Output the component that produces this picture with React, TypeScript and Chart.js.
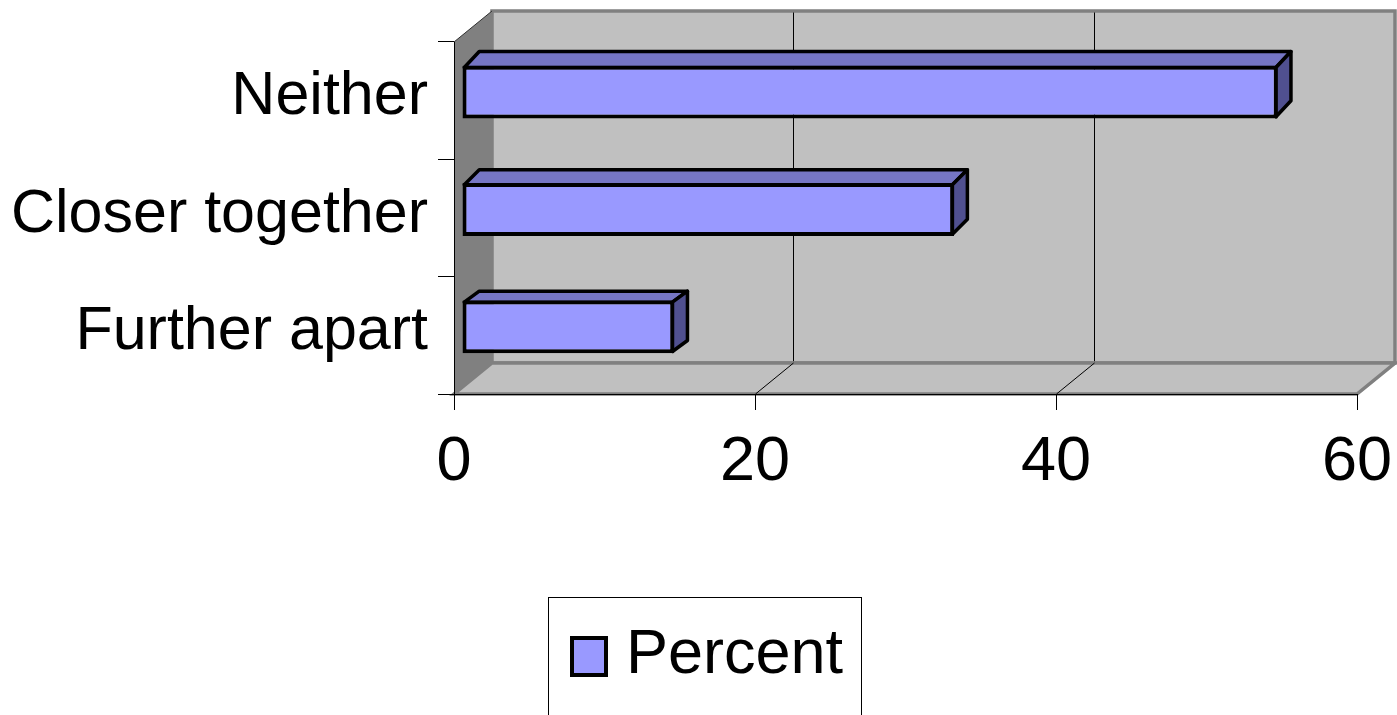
import React, { useEffect, useRef } from 'react';
import { Chart, registerables } from 'chart.js';

Chart.register(...registerables);

// ---- data ----
const categories = ['Neither', 'Closer together', 'Further apart'];
const percentValues = [54.2, 32.7, 14.1];
const seriesLabel = 'Percent';
const xTickValues = [0, 20, 40, 60];

// ---- style ----
const FONT = "'Liberation Sans', Arial, Helvetica, sans-serif";
const BAR_FRONT = '#9999ff';
const BAR_TOP = '#7676c4';
const BAR_SIDE = '#505090';
const WALL_BACK = '#c0c0c0';
const WALL_LEFT = '#808080';
const WALL_EDGE = '#808080';
const DEPTH = { dx: 38, dy: -31 };
const BAR_SHIFT = { dx: 8, dy: -8.5 };
const BAR_DEPTH_DX = 15;
const BAR_DEPTH_DY = [-16, -15, -11];

const threeDPlugin = {
  id: 'threeD',
  beforeDraw(chart: any) {
    const { ctx, chartArea: a, scales } = chart;
    const xs = scales.x;
    const { dx, dy } = DEPTH;
    ctx.save();
    // back wall
    ctx.fillStyle = WALL_BACK;
    ctx.strokeStyle = WALL_EDGE;
    ctx.lineWidth = 3.5;
    ctx.beginPath();
    ctx.rect(a.left + dx, a.top + dy, a.right - a.left, a.bottom - a.top);
    ctx.fill();
    ctx.stroke();
    // back wall gridlines
    ctx.strokeStyle = '#000';
    ctx.lineWidth = 1;
    xTickValues.slice(1, -1).forEach((v) => {
      const px = Math.round(xs.getPixelForValue(v)) + 0.5 + dx;
      ctx.beginPath();
      ctx.moveTo(px, a.top + dy + 1.5);
      ctx.lineTo(px, a.bottom + dy - 1.5);
      ctx.stroke();
    });
    // floor
    ctx.fillStyle = WALL_BACK;
    ctx.strokeStyle = WALL_EDGE;
    ctx.lineWidth = 3.5;
    ctx.beginPath();
    ctx.moveTo(a.left, a.bottom);
    ctx.lineTo(a.right, a.bottom);
    ctx.lineTo(a.right + dx, a.bottom + dy);
    ctx.lineTo(a.left + dx, a.bottom + dy);
    ctx.closePath();
    ctx.fill();
    ctx.stroke();
    // floor gridlines
    ctx.strokeStyle = '#000';
    ctx.lineWidth = 1;
    xTickValues.slice(1, -1).forEach((v) => {
      const px = Math.round(xs.getPixelForValue(v)) + 0.5;
      ctx.beginPath();
      ctx.moveTo(px, a.bottom);
      ctx.lineTo(px + dx, a.bottom + dy);
      ctx.stroke();
    });
    // left wall
    ctx.fillStyle = WALL_LEFT;
    ctx.beginPath();
    ctx.moveTo(a.left, a.top);
    ctx.lineTo(a.left + dx, a.top + dy);
    ctx.lineTo(a.left + dx, a.bottom + dy);
    ctx.lineTo(a.left, a.bottom);
    ctx.closePath();
    ctx.fill();
    ctx.strokeStyle = '#303030';
    ctx.lineWidth = 1;
    ctx.beginPath();
    ctx.moveTo(a.left, a.top);
    ctx.lineTo(a.left + dx, a.top + dy);
    ctx.stroke();
    ctx.restore();
  },
  beforeDatasetsDraw(chart: any) {
    const ctx = chart.ctx;
    ctx.save();
    ctx.translate(BAR_SHIFT.dx, BAR_SHIFT.dy);
    const meta = chart.getDatasetMeta(0);
    const dx = BAR_DEPTH_DX;
    meta.data.forEach((el: any, i: number) => {
      const dy = BAR_DEPTH_DY[i] ?? -15;
      const { x, y, base, height } = el.getProps(['x', 'y', 'base', 'height'], true);
      const x0 = Math.min(x, base);
      const x1 = Math.max(x, base);
      const top = y - height / 2;
      const bot = y + height / 2;
      const h = 1.75;
      ctx.lineWidth = 3.5;
      ctx.lineJoin = 'round';
      ctx.strokeStyle = '#000';
      // top face
      ctx.fillStyle = BAR_TOP;
      ctx.beginPath();
      ctx.moveTo(x0 + h, top + h);
      ctx.lineTo(x0 + dx + h, top + dy + h);
      ctx.lineTo(x1 + dx - h, top + dy + h);
      ctx.lineTo(x1 - h, top + h);
      ctx.closePath();
      ctx.fill();
      ctx.stroke();
      // side face
      ctx.fillStyle = BAR_SIDE;
      ctx.beginPath();
      ctx.moveTo(x1 - h, top + h);
      ctx.lineTo(x1 + dx - h, top + dy + h);
      ctx.lineTo(x1 + dx - h, bot + dy - h);
      ctx.lineTo(x1 - h, bot - h);
      ctx.closePath();
      ctx.fill();
      ctx.stroke();
    });
  },
  afterDatasetsDraw(chart: any) {
    chart.ctx.restore();
  },
  afterDraw(chart: any) {
    const ctx = chart.ctx;
    const ds = chart.data.datasets[0];
    ctx.save();
    // legend frame
    ctx.strokeStyle = '#000';
    ctx.lineWidth = 1;
    ctx.strokeRect(548.5, 597.5, 313, 130);
    // marker
    ctx.fillStyle = ds.backgroundColor;
    ctx.fillRect(572, 638, 34, 37);
    ctx.strokeStyle = '#000';
    ctx.lineWidth = 4;
    ctx.strokeRect(572, 638, 34, 37);
    // label
    ctx.fillStyle = '#000';
    ctx.font = `63px ${FONT}`;
    ctx.textAlign = 'left';
    ctx.textBaseline = 'alphabetic';
    ctx.fillText(ds.label, 626, 673);
    ctx.restore();
  },
};

export default function App() {
  const canvasRef = useRef<HTMLCanvasElement | null>(null);

  useEffect(() => {
    if (!canvasRef.current) return;
    const chart = new Chart(canvasRef.current, {
      type: 'bar',
      data: {
        labels: categories,
        datasets: [
          {
            label: seriesLabel,
            data: percentValues,
            backgroundColor: BAR_FRONT,
            borderColor: '#000',
            borderWidth: 4,
            borderSkipped: false,
            categoryPercentage: 1,
            barPercentage: 0.45,
            clip: false as any,
          },
        ],
      },
      options: {
        indexAxis: 'y',
        responsive: false,
        animation: false,
        devicePixelRatio: 1,
        layout: { padding: { top: 42, right: 40, bottom: 0, left: 0 } },
        plugins: {
          legend: { display: false },
          tooltip: { enabled: false },
          title: { display: false },
        },
        scales: {
          x: {
            type: 'linear',
            min: xTickValues[0],
            max: xTickValues[xTickValues.length - 1],
            afterBuildTicks: (s: any) => {
              s.ticks = xTickValues.map((v) => ({ value: v }));
            },
            ticks: {
              font: { family: FONT, size: 63 },
              color: '#000',
              padding: 15,
              maxRotation: 0,
              autoSkip: false,
            },
            grid: {
              drawOnChartArea: false,
              drawTicks: true,
              tickLength: 16,
              color: '#000',
              lineWidth: 1,
            },
            border: { display: true, color: '#000', width: 1 },
            afterFit: (s: any) => {
              s.height = 321;
              s.paddingLeft = 0;
              s.paddingRight = 0;
            },
          },
          y: {
            type: 'category',
            ticks: {
              font: { family: FONT, size: 61 },
              color: '#000',
              padding: 10,
              labelOffset: -3,
              autoSkip: false,
            },
            grid: {
              drawOnChartArea: false,
              drawTicks: true,
              tickLength: 16,
              color: '#000',
              offset: true,
            },
            border: { display: true, color: '#000', width: 1 },
            afterFit: (s: any) => {
              s.width = 454;
              s.paddingTop = 0;
              s.paddingBottom = 0;
            },
          },
        },
      },
      plugins: [threeDPlugin],
    });
    return () => chart.destroy();
  }, []);

  return (
    <div style={{ position: 'fixed', left: 0, top: 0, width: 1397, height: 715, background: '#fff' }}>
      <canvas ref={canvasRef} width={1397} height={715} style={{ display: 'block' }} />
    </div>
  );
}
